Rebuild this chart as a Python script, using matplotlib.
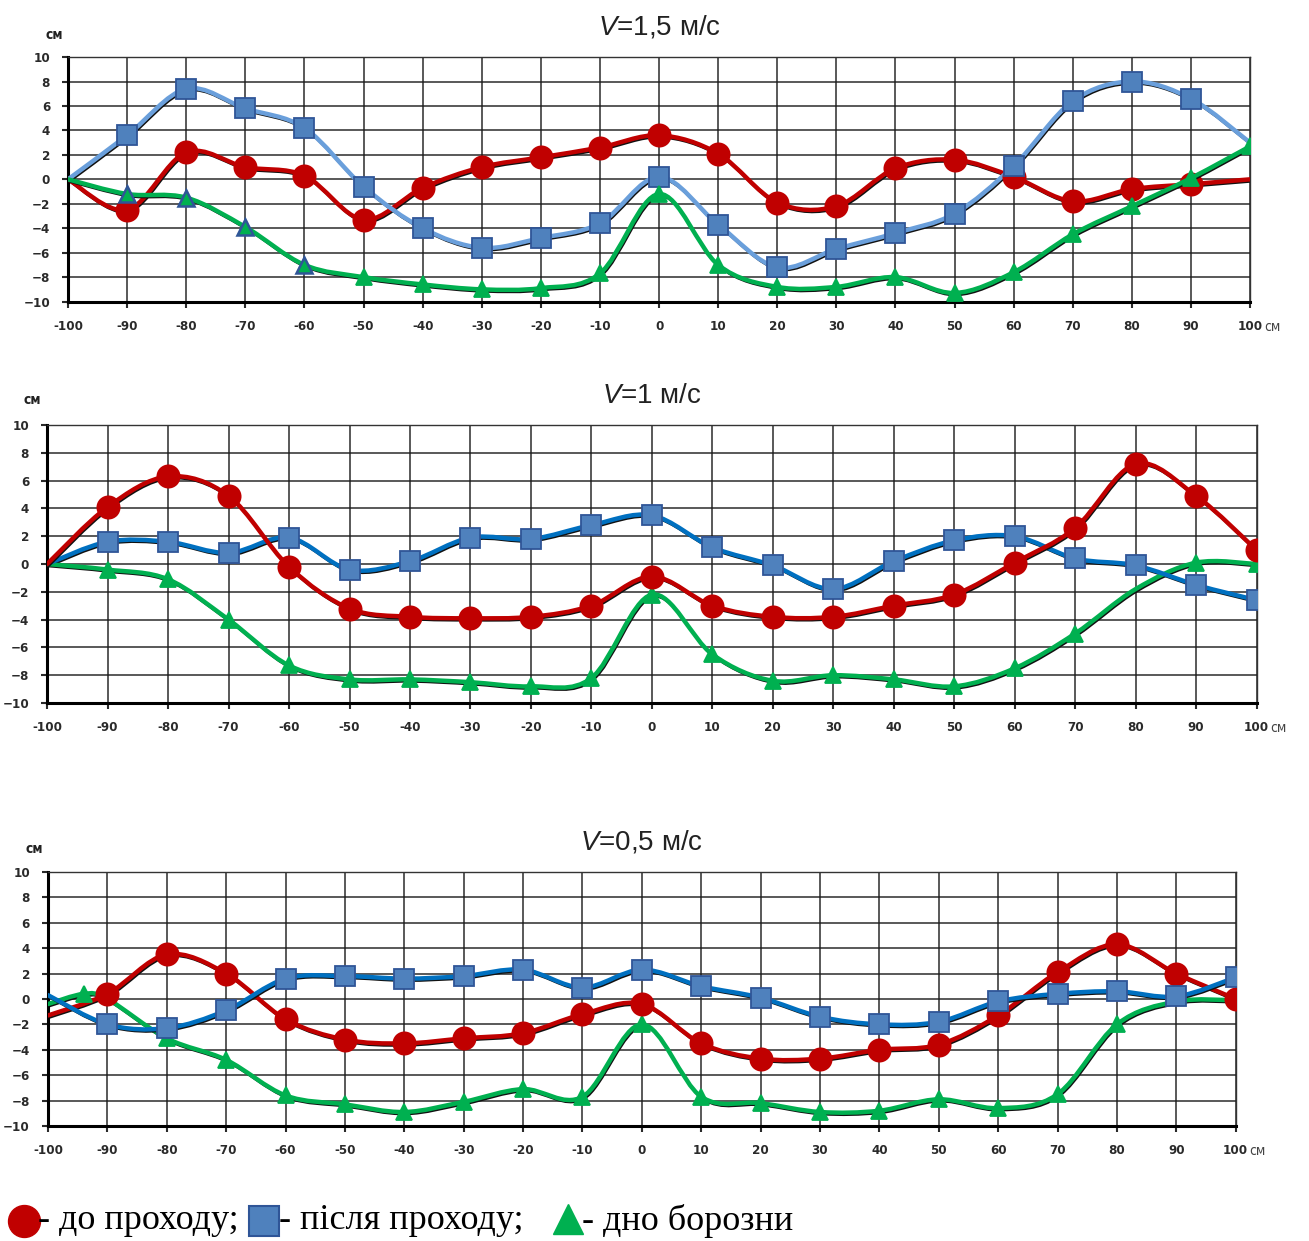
import matplotlib
matplotlib.use("Agg")
import matplotlib.pyplot as plt
import matplotlib.transforms as mtransforms
from matplotlib.lines import Line2D
from matplotlib.patches import PathPatch
from matplotlib.path import Path

X = list(range(-100, 101, 10))
YTICKS = list(range(-10, 11, 2))
XTICK_LABELS = [str(v) for v in X]

TITLES = ["$V$=1,5 м/с", "$V$=1 м/с", "$V$=0,5 м/с"]
LEGEND_LABELS = ["- до проходу;", "- після проходу;", "- дно борозни"]

# V = 1,5 m/s
BEFORE_15 = [0, -2.5, 2.2, 1.0, 0.3, -3.3, -0.7, 1.0, 1.8, 2.6, 3.6,
             2.1, -1.9, -2.2, 0.9, 1.6, 0.2, -1.8, -0.8, -0.4, 0.0]
AFTER_15 = [0, 3.6, 7.4, 5.8, 4.2, -0.6, -4.0, -5.6, -4.8, -3.6, 0.2,
            -3.7, -7.2, -5.7, -4.4, -2.8, 1.1, 6.4, 8.0, 6.6, 3.0]
BOTTOM_15 = [0, -1.2, -1.5, -3.9, -7.0, -8.0, -8.6, -9.0, -8.9, -7.7, -1.2,
             -7.0, -8.8, -8.8, -8.0, -9.3, -7.6, -4.5, -2.2, 0.1, 2.7]

# V = 1 m/s
BEFORE_10 = [0, 4.1, 6.3, 4.9, -0.2, -3.2, -3.8, -3.9, -3.8, -3.0, -0.9,
             -3.0, -3.8, -3.8, -3.0, -2.2, 0.1, 2.6, 7.2, 4.9, 1.0]
AFTER_10 = [0, 1.6, 1.6, 0.8, 1.9, -0.4, 0.2, 1.9, 1.8, 2.8, 3.5,
            1.2, -0.1, -1.8, 0.2, 1.7, 2.0, 0.4, -0.1, -1.5, -2.6]
BOTTOM_10 = [0, -0.4, -1.1, -4.0, -7.3, -8.3, -8.3, -8.5, -8.8, -8.2, -2.2,
             -6.5, -8.4, -8.0, -8.3, -8.8, -7.5, -5.0, -1.8, 0.1, 0.0]

# V = 0,5 m/s
BEFORE_05 = [-1.3, 0.4, 3.5, 2.0, -1.6, -3.2, -3.5, -3.1, -2.7, -1.2, -0.4,
             -3.5, -4.7, -4.7, -4.0, -3.6, -1.3, 2.1, 4.3, 2.0, 0.0]
AFTER_05 = [0.3, -2.0, -2.3, -0.9, 1.6, 1.8, 1.6, 1.8, 2.3, 0.9, 2.3,
            1.0, 0.1, -1.4, -2.0, -1.8, -0.2, 0.4, 0.6, 0.2, 1.7]
X_BOTTOM_05 = [-100, -94, -90, -80, -70, -60, -50, -40, -30, -20, -10, 0,
               10, 20, 30, 40, 50, 60, 70, 80, 90, 100]
BOTTOM_05 = [-0.4, 0.4, 0.0, -3.1, -4.8, -7.6, -8.3, -8.9, -8.1, -7.1, -7.7, -2.0,
             -7.7, -8.2, -8.9, -8.8, -7.9, -8.6, -7.5, -2.0, -0.2, -0.1]

RED = "#C00000"
BLUE_FILL = "#4F81BD"
BLUE_EDGE = "#2F5597"
GREEN = "#00B050"

plt.rcParams["mathtext.fontset"] = "custom"
plt.rcParams["mathtext.it"] = "Liberation Sans:italic"
plt.rcParams["mathtext.rm"] = "Liberation Sans"


def smooth_path(xs, ys):
    # Excel-like smoothed line: cubic Bezier through every point
    pts = list(zip(xs, ys))
    verts = [pts[0]]
    codes = [Path.MOVETO]
    n = len(pts)
    for i in range(n - 1):
        p0 = pts[max(i - 1, 0)]
        p1 = pts[i]
        p2 = pts[i + 1]
        p3 = pts[min(i + 2, n - 1)]
        c1 = (p1[0] + (p2[0] - p0[0]) / 6, p1[1] + (p2[1] - p0[1]) / 6)
        c2 = (p2[0] - (p3[0] - p1[0]) / 6, p2[1] - (p3[1] - p1[1]) / 6)
        verts += [c1, c2, p2]
        codes += [Path.CURVE4] * 3
    return Path(verts, codes)


def curve(ax, fig, xs, ys, color, marker, ms, mfc, mec, marks, lw=3.2, z=3):
    # thin black trace of the scanned original, slightly shifted
    shadow = ax.transData + mtransforms.ScaledTranslation(1.0 / 72, -1.6 / 72, fig.dpi_scale_trans)
    ax.add_patch(PathPatch(smooth_path(xs, ys), fc="none", ec="#111111", lw=1.6,
                           transform=shadow, zorder=z - 0.5, capstyle="round"))
    ax.add_patch(PathPatch(smooth_path(xs, ys), fc="none", ec=color, lw=lw,
                           zorder=z, capstyle="round", joinstyle="round"))
    ax.plot(xs, ys, linestyle="none", marker=marker, ms=ms, mfc=mfc, mec=mec,
            mew=1.3, markevery=marks, zorder=z + 0.5)


def setup(ax, title):
    ax.set_xlim(-100, 100)
    ax.set_ylim(-10, 10)
    ax.set_xticks(X)
    ax.set_xticklabels(XTICK_LABELS)
    ax.set_yticks(YTICKS)
    ax.grid(True, color="#1a1a1a", lw=1.2, alpha=0.85)
    ax.set_axisbelow(True)
    for side in ("top", "right"):
        ax.spines[side].set_linewidth(1.0)
        ax.spines[side].set_color("#333333")
    for side in ("left", "bottom"):
        ax.spines[side].set_linewidth(2.2)
    ax.tick_params(length=4, width=1.5, pad=9, labelsize=9.5, colors="#2a2a2a")
    for lab in ax.get_xticklabels() + ax.get_yticklabels():
        lab.set_family("DejaVu Sans")
        lab.set_stretch("condensed")
        lab.set_fontweight("bold")
    ax.set_title(title, fontsize=20, family="Liberation Sans", color="#222222", pad=16)
    ax.text(-0.012, 1.09, "см", transform=ax.transAxes, ha="center", va="center",
            fontsize=10, fontweight="bold", family="DejaVu Sans", stretch="condensed",
            color="#222222")
    ax.annotate("см", xy=(1, 0), xycoords="axes fraction", xytext=(14, -25),
                textcoords="offset pixels", ha="left", va="center", fontsize=10,
                family="DejaVu Sans", stretch="condensed", color="#444444",
                annotation_clip=False)


fig = plt.figure(figsize=(13.09, 12.41), dpi=100)
ax1 = fig.add_axes([0.052, 0.757, 0.903, 0.197])
ax2 = fig.add_axes([0.036, 0.4335, 0.924, 0.224])
ax3 = fig.add_axes([0.0367, 0.0927, 0.9073, 0.2047])

# ----- V = 1,5 m/s
setup(ax1, TITLES[0])
curve(ax1, fig, X, BEFORE_15, RED, "o", 16, RED, RED, list(range(1, 20)))
curve(ax1, fig, X, AFTER_15, "#6A9FDB", "s", 15, BLUE_FILL, BLUE_EDGE, list(range(1, 20)))
curve(ax1, fig, X, BOTTOM_15, GREEN, "^", 12, GREEN, GREEN, list(range(5, 21)), z=4)
ax1.plot(X[1:5], BOTTOM_15[1:5], linestyle="none", marker="^", ms=12, mfc=GREEN,
         mec=BLUE_EDGE, mew=1.8, zorder=5)

# ----- V = 1 m/s
setup(ax2, TITLES[1])
curve(ax2, fig, X, BOTTOM_10, GREEN, "^", 12, GREEN, GREEN,
      [i for i in range(1, 21) if i != 18])
curve(ax2, fig, X, AFTER_10, "#0070C0", "s", 15, BLUE_FILL, BLUE_EDGE, list(range(1, 21)))
curve(ax2, fig, X, BEFORE_10, RED, "o", 16, RED, RED, list(range(1, 21)), z=4)

# ----- V = 0,5 m/s
setup(ax3, TITLES[2])
curve(ax3, fig, X_BOTTOM_05, BOTTOM_05, GREEN, "^", 12, GREEN, GREEN,
      [1] + list(range(3, 20)))
curve(ax3, fig, X, BEFORE_05, RED, "o", 16, RED, RED, list(range(1, 21)))
curve(ax3, fig, X, AFTER_05, "#0070C0", "s", 15, BLUE_FILL, BLUE_EDGE, list(range(1, 21)), z=4)

# ----- legend line at the bottom
fig.text(0.029, 0.0165, LEGEND_LABELS[0], fontsize=26, family="Liberation Serif",
         va="center", ha="left")
fig.add_artist(Line2D([0.018], [0.016], marker="o", ms=23, mfc=RED, mec=RED,
                      transform=fig.transFigure))
fig.text(0.2135, 0.0165, LEGEND_LABELS[1], fontsize=26, family="Liberation Serif",
         va="center", ha="left")
fig.add_artist(Line2D([0.2017], [0.016], marker="s", ms=21, mfc=BLUE_FILL, mec=BLUE_EDGE,
                      mew=1.5, transform=fig.transFigure))
fig.text(0.4445, 0.0165, LEGEND_LABELS[2], fontsize=26, family="Liberation Serif",
         va="center", ha="left")
fig.add_artist(Line2D([0.434], [0.018], marker="^", ms=22, mfc=GREEN, mec=GREEN,
                      transform=fig.transFigure))

fig.savefig("out.png", dpi=100)
